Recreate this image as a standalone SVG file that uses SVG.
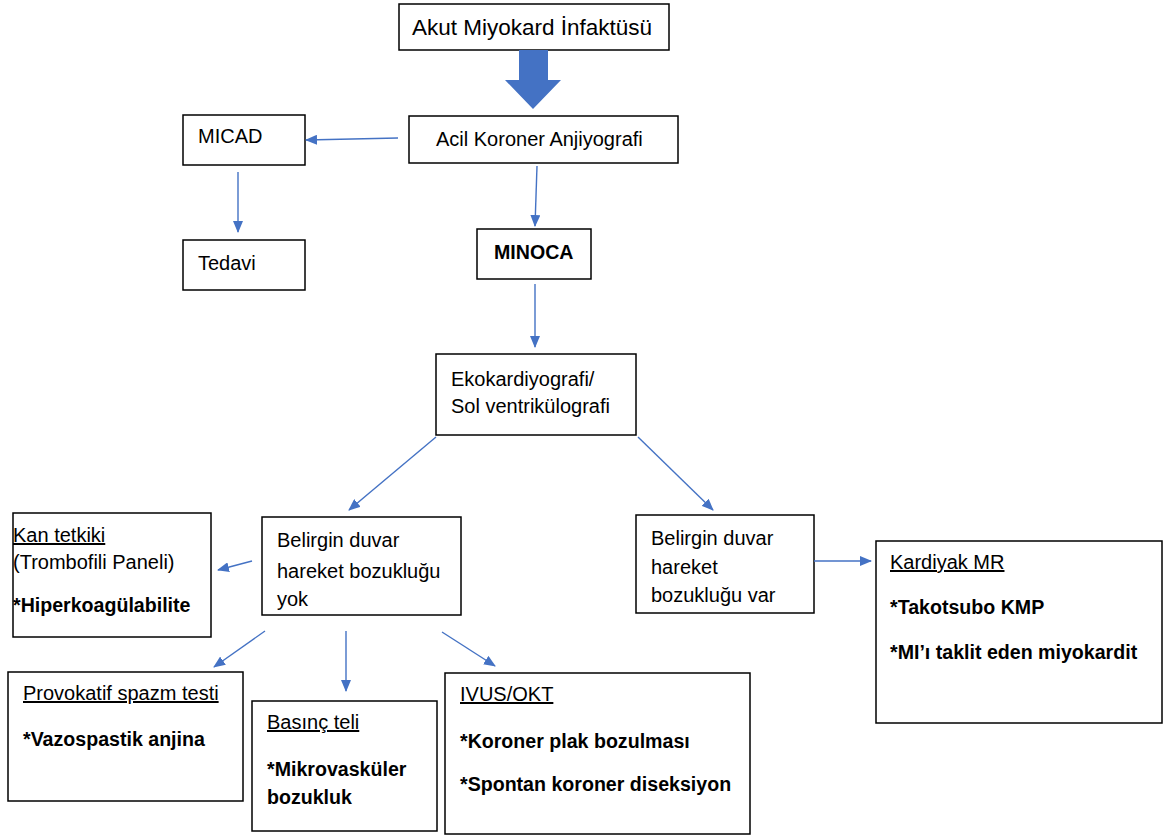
<svg xmlns="http://www.w3.org/2000/svg" width="1168" height="837" viewBox="0 0 1168 837">
<style>
.box{fill:#fff;stroke:#000;stroke-width:1.5}
text{font-family:"Liberation Sans",Arial,sans-serif;font-size:20px;fill:#000}
.b{font-weight:bold;font-size:19.6px}
.u{text-decoration:underline}
.c{stroke:#4472C4;stroke-width:1.4;fill:none;marker-end:url(#ah)}
</style>
<defs>
<marker id="ah" markerWidth="12" markerHeight="10" refX="11" refY="5" orient="auto" markerUnits="userSpaceOnUse">
<path d="M0,0 L12,5 L0,10 Z" fill="#4472C4"/>
</marker>
</defs>
<rect width="1168" height="837" fill="#fff"/>
<g id="n-ami"><rect class="box" x="399" y="4" width="270" height="46"/><text x="412" y="35" style="font-size:22.5px">Akut Miyokard İnfaktüsü</text></g>
<g id="big-arrow"><path d="M519,50 H548 V80 H561 L533,109 L505,80 H519 Z" fill="#4472C4"/></g>
<g id="n-acil"><rect class="box" x="409" y="116" width="269" height="47"/><text x="436" y="146">Acil Koroner Anjiyografi</text></g>
<g id="n-micad"><rect class="box" x="183" y="115" width="122" height="50"/><text x="198" y="143">MICAD</text></g>
<g id="n-tedavi"><rect class="box" x="183" y="240" width="122" height="50"/><text x="198" y="270">Tedavi</text></g>
<g id="n-minoca"><rect class="box" x="477" y="229" width="114" height="50"/><text class="b" x="494" y="259">MINOCA</text></g>
<g id="n-eko"><rect class="box" x="436" y="354" width="200" height="81"/><text x="451" y="386">Ekokardiyografi/</text><text x="451" y="413">Sol ventrikülografi</text></g>
<g id="n-yok"><rect class="box" x="262" y="517" width="199" height="98"/><text x="277" y="547">Belirgin duvar</text><text x="277" y="578">hareket bozukluğu</text><text x="277" y="606">yok</text></g>
<g id="n-var"><rect class="box" x="636" y="515" width="178" height="98"/><text x="651" y="545">Belirgin duvar</text><text x="651" y="574">hareket</text><text x="651" y="602">bozukluğu var</text></g>
<g id="n-kan"><rect class="box" x="13" y="513" width="198" height="124"/><text class="u" x="13" y="542">Kan tetkiki</text><text x="13" y="569">(Trombofili Paneli)</text><text class="b" x="13" y="612">*Hiperkoagülabilite</text></g>
<g id="n-mr"><rect class="box" x="876" y="541" width="286" height="182"/><text class="u" x="890" y="569">Kardiyak MR</text><text class="b" x="890" y="614">*Takotsubo KMP</text><text class="b" x="890" y="659">*MI’ı taklit eden miyokardit</text></g>
<g id="n-prov"><rect class="box" x="8" y="672" width="235" height="129"/><text class="u" x="23" y="700">Provokatif spazm testi</text><text class="b" x="23" y="746">*Vazospastik anjina</text></g>
<g id="n-basinc"><rect class="box" x="252" y="701" width="185" height="130"/><text class="u" x="267" y="729">Basınç teli</text><text class="b" x="267" y="776">*Mikrovasküler</text><text class="b" x="267" y="804">bozukluk</text></g>
<g id="n-ivus"><rect class="box" x="445" y="673" width="305" height="161"/><text class="u" x="460" y="701">IVUS/OKT</text><text class="b" x="460" y="748">*Koroner plak bozulması</text><text class="b" x="460" y="791">*Spontan koroner diseksiyon</text></g>
<g id="connectors">
<line class="c" x1="398" y1="138" x2="306" y2="140"/>
<line class="c" x1="238" y1="172" x2="238" y2="232"/>
<line class="c" x1="537" y1="166" x2="535" y2="226"/>
<line class="c" x1="535" y1="284" x2="535" y2="347"/>
<line class="c" x1="436" y1="437" x2="349" y2="510"/>
<line class="c" x1="638" y1="437" x2="713" y2="510"/>
<line class="c" x1="252" y1="561" x2="218" y2="570"/>
<line class="c" x1="814" y1="561" x2="871" y2="561"/>
<line class="c" x1="265" y1="631" x2="214" y2="667"/>
<line class="c" x1="346" y1="631" x2="346" y2="691"/>
<line class="c" x1="442" y1="632" x2="495" y2="666"/>
</g>
</svg>
